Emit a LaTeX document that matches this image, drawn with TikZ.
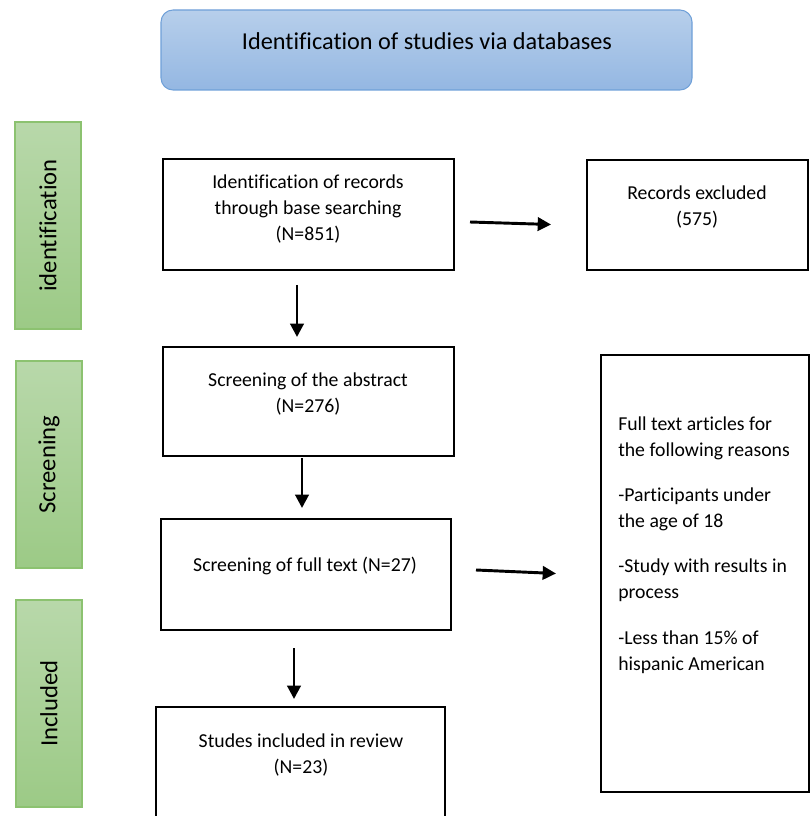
\documentclass[tikz,border=0pt]{standalone}
\usepackage{fontspec}
\setmainfont[Ligatures={NoCommon}]{Carlito}
\usetikzlibrary{arrows.meta}
\definecolor{hdtop}{HTML}{B7CFEB}
\definecolor{hdbot}{HTML}{94B7E2}
\definecolor{hdline}{HTML}{6FA0D8}
\definecolor{grtop}{HTML}{B8D8AA}
\definecolor{grbot}{HTML}{9CCA86}
\definecolor{grline}{HTML}{8CC270}
\tikzset{
  flowbox/.style={draw=black, line width=1.5pt, inner sep=0pt},
  phasebar/.style={draw=grline, line width=0.8pt, top color=grtop, bottom color=grbot, inner sep=0pt,
     minimum width=66*0.75pt, minimum height=207*0.75pt},
  phasetext/.style={rotate=90, font=\fontsize{18.5}{22}\selectfont},
  boxtext/.style={align=center, font=\fontsize{14.8}{19.5}\selectfont, inner sep=0pt},
  flowarrow/.style={line width=2.2pt, -{Triangle[length=10pt, width=10pt]}}
}
\begin{document}
\begin{tikzpicture}[x=0.75pt, y=-0.75pt]
\useasboundingbox (0,0) rectangle (809,816);
% header
\node[draw=hdline, line width=0.8pt, rounded corners=9pt, top color=hdtop, bottom color=hdbot,
  minimum width=531*0.75pt, minimum height=80*0.75pt, inner sep=0pt] (hdr) at (426.5,50) {};
\node[font=\fontsize{18.2}{22}\selectfont, inner sep=0pt] (hdrt) at (427,41) {Identification of studies via databases};
% phase bars
\node[phasebar] (pid) at (48,225.5) {};
\node[phasetext] (pidt) at (48,225.5) {identification};
\node[phasebar] (psc) at (49,464.5) {};
\node[phasetext] (psct) at (49,464.5) {Screening};
\node[phasebar] (pin) at (49,703.5) {};
\node[phasetext] (pint) at (49,703.5) {Included};
% boxes
\node[flowbox, minimum width=291*0.75pt, minimum height=111*0.75pt] (b1) at (308.5,214.5) {};
\node[boxtext] (b1t) at (308,209.5) {Identification of records\\through base searching\\(N=851)};
\node[flowbox, minimum width=221*0.75pt, minimum height=110*0.75pt] (ex) at (697.5,215) {};
\node[boxtext] (ext) at (697,207) {Records excluded\\(575)};
\node[flowbox, minimum width=291*0.75pt, minimum height=109*0.75pt] (b2) at (308.5,401.5) {};
\node[boxtext] (b2t) at (308,394) {Screening of the abstract\\(N=276)};
\node[flowbox, minimum width=290*0.75pt, minimum height=111*0.75pt] (b3) at (306,574.5) {};
\node[boxtext] (b3t) at (305,566) {Screening of full text (N=27)};
\node[flowbox, minimum width=208*0.75pt, minimum height=437*0.75pt] (rs) at (705,573.5) {};
\node[align=left, anchor=west, inner sep=0pt, font=\fontsize{14.8}{19.5}\selectfont] (rst) at (618,545)
 {Full text articles for\\the following reasons\\[14.5pt]-Participants under\\the age of 18\\[14.5pt]-Study with results in\\process\\[14.5pt]-Less than 15\% of\\hispanic American};
\node[flowbox, minimum width=289*0.75pt, minimum height=130*0.75pt] (b4) at (300.5,772) {};
\node[boxtext] (b4t) at (301,755) {Studes included in review\\(N=23)};
% arrows
\coordinate (a1s) at (470,222); \coordinate (a1e) at (551,224.5);
\coordinate (a2s) at (297,285); \coordinate (a2e) at (297,337);
\coordinate (a3s) at (302,458); \coordinate (a3e) at (302,508);
\coordinate (a4s) at (476,570); \coordinate (a4e) at (556,573.5);
\coordinate (a5s) at (294,648); \coordinate (a5e) at (294,699);
\draw[flowarrow] (a1s) -- (a1e);
\draw[flowarrow] (a2s) -- (a2e);
\draw[flowarrow] (a3s) -- (a3e);
\draw[flowarrow] (a4s) -- (a4e);
\draw[flowarrow] (a5s) -- (a5e);
\end{tikzpicture}
\end{document}
